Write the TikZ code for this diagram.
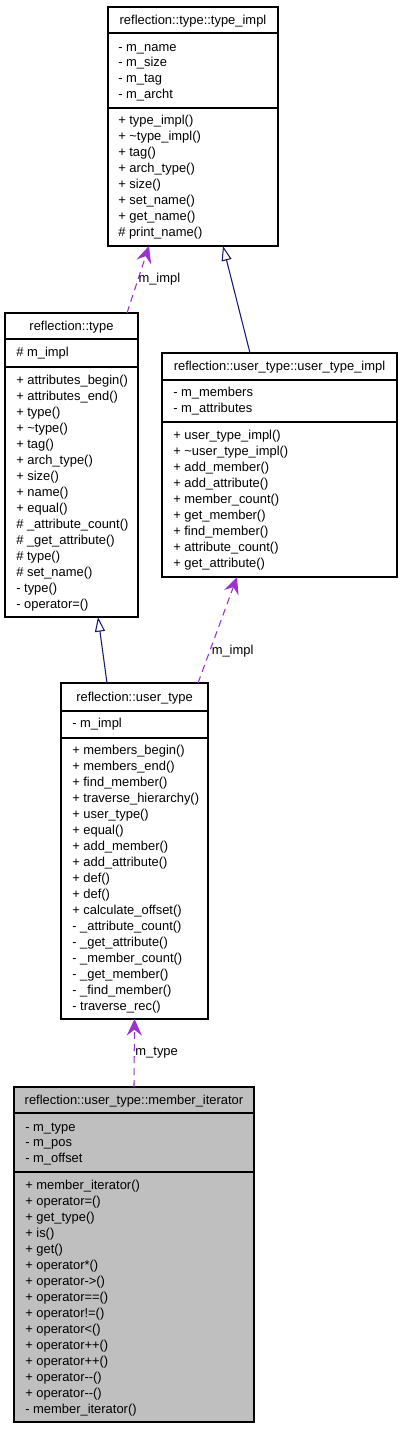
\documentclass[tikz,border=0pt]{standalone}
\usepackage{fontspec}
\setmainfont{Liberation Sans}
\usetikzlibrary{arrows.meta}
\definecolor{usecol}{HTML}{9A32CD}
\definecolor{inhcol}{HTML}{191970}
\definecolor{boxgray}{HTML}{BFBFBF}
\tikzset{
  classbox/.style={draw=black, line width=1pt, inner sep=0pt, outer sep=0pt, anchor=north west},
  divider/.style={black, line width=1pt},
  titletext/.style={font=\fontsize{9.7}{11}\selectfont, inner sep=0pt, anchor=base},
  member/.style={font=\fontsize{9.7}{11}\selectfont, inner sep=0pt, anchor=base west},
  edgelabel/.style={font=\fontsize{9.7}{11}\selectfont, inner sep=1pt, anchor=west, text=black},
  uses/.style={usecol, line width=0.8pt, dash pattern=on 5.25pt off 3.75pt,
    -{Stealth[length=12.5pt, width=11.5pt, inset=4.5pt]}},
  inherit/.style={inhcol, line width=0.8pt, -{Triangle[open, length=11pt, width=7.5pt]}}
}
\begin{document}
\begin{tikzpicture}[x=0.75pt, y=-0.75pt]
\useasboundingbox (0,0) rectangle (403,1429);

% ---- A: type_impl
\node[classbox, minimum width=127.5pt, minimum height=179.25pt] (A) at (108,7) {};
\draw[divider] (108,33) -- (278,33);
\draw[divider] (108,108) -- (278,108);
\node[titletext] (At) at (193,24) {reflection::type::type\_impl};
\foreach \t [count=\i from 0] in {- m\_name, - m\_size, - m\_tag, - m\_archt}
  \node[member] (Aa\i) at (118,51+15.67*\i) {\t};
\foreach \t [count=\i from 0] in {+ type\_impl(), + \textasciitilde type\_impl(), + tag(), + arch\_type(), + size(), + set\_name(), + get\_name(), \# print\_name()}
  \node[member] (Am\i) at (118,124+16*\i) {\t};

% ---- B: type
\node[classbox, minimum width=99.75pt, minimum height=228pt] (B) at (5,313) {};
\draw[divider] (5,339) -- (138,339);
\draw[divider] (5,367) -- (138,367);
\node[titletext] (Bt) at (71.5,330) {reflection::type};
\node[member] (Ba0) at (16,356) {\# m\_impl};
\foreach \t [count=\i from 0] in {+ attributes\_begin(), + attributes\_end(), + type(), + \textasciitilde type(), + tag(), + arch\_type(), + size(), + name(), + equal(), \# \_attribute\_count(), \# \_get\_attribute(), \# type(), \# set\_name(), - type(), - operator=()}
  \node[member] (Bm\i) at (16,384+16*\i) {\t};

% ---- C: user_type_impl
\node[classbox, minimum width=176.25pt, minimum height=168pt] (C) at (162,353) {};
\draw[divider] (162,380) -- (397,380);
\draw[divider] (162,422) -- (397,422);
\node[titletext] (Ct) at (279.5,370.5) {reflection::user\_type::user\_type\_impl};
\foreach \t [count=\i from 0] in {- m\_members, - m\_attributes}
  \node[member] (Ca\i) at (173,396+16*\i) {\t};
\foreach \t [count=\i from 0] in {+ user\_type\_impl(), + \textasciitilde user\_type\_impl(), + add\_member(), + add\_attribute(), + member\_count(), + get\_member(), + find\_member(), + attribute\_count(), + get\_attribute()}
  \node[member] (Cm\i) at (173,439+16*\i) {\t};

% ---- D: user_type
\node[classbox, minimum width=110.25pt, minimum height=252pt] (D) at (61,683) {};
\draw[divider] (61,711) -- (208,711);
\draw[divider] (61,738) -- (208,738);
\node[titletext] (Dt) at (134.5,701) {reflection::user\_type};
\node[member] (Da0) at (72,727) {- m\_impl};
\foreach \t [count=\i from 0] in {+ members\_begin(), + members\_end(), + find\_member(), + traverse\_hierarchy(), + user\_type(), + equal(), + add\_member(), + add\_attribute(), + def(), + def(), + calculate\_offset(), - \_attribute\_count(), - \_get\_attribute(), - \_member\_count(), - \_get\_member(), - \_find\_member(), - traverse\_rec()}
  \node[member] (Dm\i) at (72,754+16*\i) {\t};

% ---- E: member_iterator
\node[classbox, fill=boxgray, minimum width=180pt, minimum height=251.25pt] (E) at (14,1087) {};
\draw[divider] (14,1113) -- (254,1113);
\draw[divider] (14,1172) -- (254,1172);
\node[titletext] (Et) at (134,1104) {reflection::user\_type::member\_iterator};
\foreach \t [count=\i from 0] in {- m\_type, - m\_pos, - m\_offset}
  \node[member] (Ea\i) at (25,1131+15.6*\i) {\t};
\foreach \t [count=\i from 0] in {+ member\_iterator(), + operator=(), + get\_type(), + is(), + get(), + operator*(), + operator->(), + operator==(), + operator!=(), + operator<(), + operator++(), + operator++(), + operator{-}{-}(), + operator{-}{-}(), - member\_iterator()}
  \node[member] (Em\i) at (25,1189+16*\i) {\t};

% ---- connectors
\draw[uses] ([xshift=91.5pt]B.north west) -- node[edgelabel, pos=0.5, inner sep=0pt] (L1) {m\_impl} ([xshift=30.75pt]A.south west);
\draw[inherit] ([xshift=66pt]C.north west) -- ([xshift=86.25pt]A.south west);
\draw[inherit] ([xshift=34.5pt]D.north west) -- ([xshift=69.75pt]B.south west);
\draw[uses] ([xshift=102.75pt]D.north west) -- node[edgelabel, pos=0.305] (L2) {m\_impl} ([xshift=56.25pt]C.south west);
\draw[uses] (E.north) -- node[edgelabel, pos=0.507, inner sep=0.5pt] (L3) {m\_type} (D.south);
\end{tikzpicture}
\end{document}
